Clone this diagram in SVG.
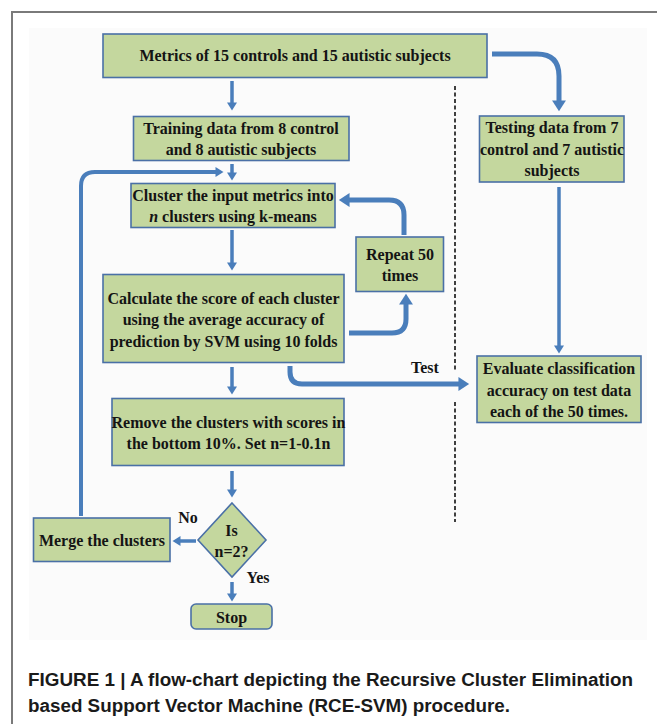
<svg xmlns="http://www.w3.org/2000/svg" width="657" height="724" viewBox="0 0 657 724">
<defs>
<style>
.box{fill:#c4d79e;stroke:#4a70a6;stroke-width:1.6}
.t{font-family:"Liberation Serif","Times New Roman",serif;font-weight:bold;font-size:16px;fill:#141414;text-anchor:middle}
.lbl{font-family:"Liberation Serif","Times New Roman",serif;font-weight:bold;font-size:16px;fill:#141414;text-anchor:middle}
.cap{font-family:"Liberation Sans",Arial,sans-serif;font-weight:bold;font-size:18.8px;fill:#1a1a1a}
.a{fill:none;stroke:#4a7ebb;stroke-width:3.5;marker-end:url(#hs)}
.ac{fill:none;stroke:#4a7ebb;stroke-width:5;marker-end:url(#hl)}
.al{fill:none;stroke:#4a7ebb;stroke-width:4;marker-end:url(#hs)}
.dash{fill:none;stroke:#111;stroke-width:1.6;stroke-dasharray:4 2.5}
</style>
<marker id="hs" markerUnits="userSpaceOnUse" markerWidth="12" markerHeight="12" viewBox="0 -6 9 12" refX="0.5" refY="0" orient="auto"><path d="M0,-5 L8,0 L0,5 z" fill="#4a7ebb"/></marker>
<marker id="hl" markerUnits="userSpaceOnUse" markerWidth="14" markerHeight="16" viewBox="0 -7.5 11 15" refX="0.5" refY="0" orient="auto"><path d="M0,-6.5 L10,0 L0,6.5 z" fill="#4a7ebb"/></marker>
</defs>
<rect x="0" y="0" width="657" height="724" fill="#ffffff"/>
<rect x="29" y="28" width="618" height="612" fill="#fbfbfb"/>
<path d="M12,724 V12 H657" fill="none" stroke="#7a7a7a" stroke-width="2"/>

<g id="connectors">
<path class="a" d="M232,81 V103"/>
<path class="ac" d="M492,54 H537 Q559,54 559,76 V101"/>
<path class="a" d="M232,164 V173"/>
<path class="al" d="M81,516 V186 Q81,172 95,172 H216"/>
<path class="a" d="M232,230 V263"/>
<path class="ac" d="M404,235 V215 Q404,200 389,200 H349"/>
<path class="ac" d="M349,333 H392 Q406,333 406,319 V304"/>
<path class="a" d="M232,367 V387"/>
<path class="ac" d="M290,366 V372 Q290,384 302,384 H459"/>
<path class="a" d="M559,187 V346"/>
<path class="a" d="M232,471 V490"/>
<path class="a" d="M196,541 H180"/>
<path class="a" d="M232,582 V594"/>
<path class="dash" d="M455,86 V370 M455,402 V522"/>
<text class="lbl" x="425" y="373">Test</text>
<text class="lbl" x="188" y="523">No</text>
<text class="lbl" x="258" y="583">Yes</text>
</g>

<g id="metrics">
<rect class="box" x="103" y="34" width="384" height="43.5"/>
<text class="t" x="295" y="61">Metrics of 15 controls and 15 autistic subjects</text>
</g>
<g id="training">
<rect class="box" x="133.5" y="116.5" width="215.5" height="44"/>
<text class="t" x="241" y="133.5">Training data from 8 control</text>
<text class="t" x="241" y="155">and 8 autistic subjects</text>
</g>
<g id="testing">
<rect class="box" x="479.5" y="116" width="144.5" height="66"/>
<text class="t" x="552" y="133">Testing data from 7</text>
<text class="t" x="552" y="154.5">control and 7 autistic</text>
<text class="t" x="552" y="176">subjects</text>
</g>
<g id="cluster">
<rect class="box" x="131" y="183.5" width="204" height="44"/>
<text class="t" x="233" y="200.5">Cluster the input metrics into</text>
<text class="t" x="233" y="222"><tspan font-style="italic">n</tspan> clusters using k-means</text>
</g>
<g id="repeat">
<rect class="box" x="356" y="237" width="87.5" height="54.5"/>
<text class="t" x="400" y="259.5">Repeat 50</text>
<text class="t" x="400" y="281">times</text>
</g>
<g id="calculate">
<rect class="box" x="103" y="274.5" width="241" height="88"/>
<text class="t" x="223.5" y="303.5">Calculate the score of each cluster</text>
<text class="t" x="223.5" y="325">using the average accuracy of</text>
<text class="t" x="223.5" y="346.5">prediction by SVM using 10 folds</text>
</g>
<g id="evaluate">
<rect class="box" x="477" y="356" width="164" height="66.5"/>
<text class="t" x="559" y="374">Evaluate classification</text>
<text class="t" x="559" y="395.5">accuracy on test data</text>
<text class="t" x="559" y="417">each of the 50 times.</text>
</g>
<g id="remove">
<rect class="box" x="112" y="398.5" width="232" height="67"/>
<text class="t" x="228.5" y="428">Remove the clusters with scores in</text>
<text class="t" x="228.5" y="449">the bottom 10%. Set n=1-0.1n</text>
</g>
<g id="decision">
<polygon class="box" points="232,503 266,540 232,577 198,540"/>
<text class="t" x="231.5" y="535.5">Is</text>
<text class="t" x="231.5" y="557" font-size="15.5px">n=2?</text>
</g>
<g id="merge">
<rect class="box" x="33.5" y="518" width="136.5" height="43.5"/>
<text class="t" x="102" y="546">Merge the clusters</text>
</g>
<g id="stop">
<rect class="box" x="191" y="604" width="81" height="25" rx="5"/>
<text class="t" x="231.5" y="622.5">Stop</text>
</g>

<g id="caption">
<text class="cap" x="28" y="686" textLength="605" lengthAdjust="spacingAndGlyphs">FIGURE 1 | A flow-chart depicting the Recursive Cluster Elimination</text>
<text class="cap" x="28" y="712" textLength="482" lengthAdjust="spacingAndGlyphs">based Support Vector Machine (RCE-SVM) procedure.</text>
</g>
</svg>
